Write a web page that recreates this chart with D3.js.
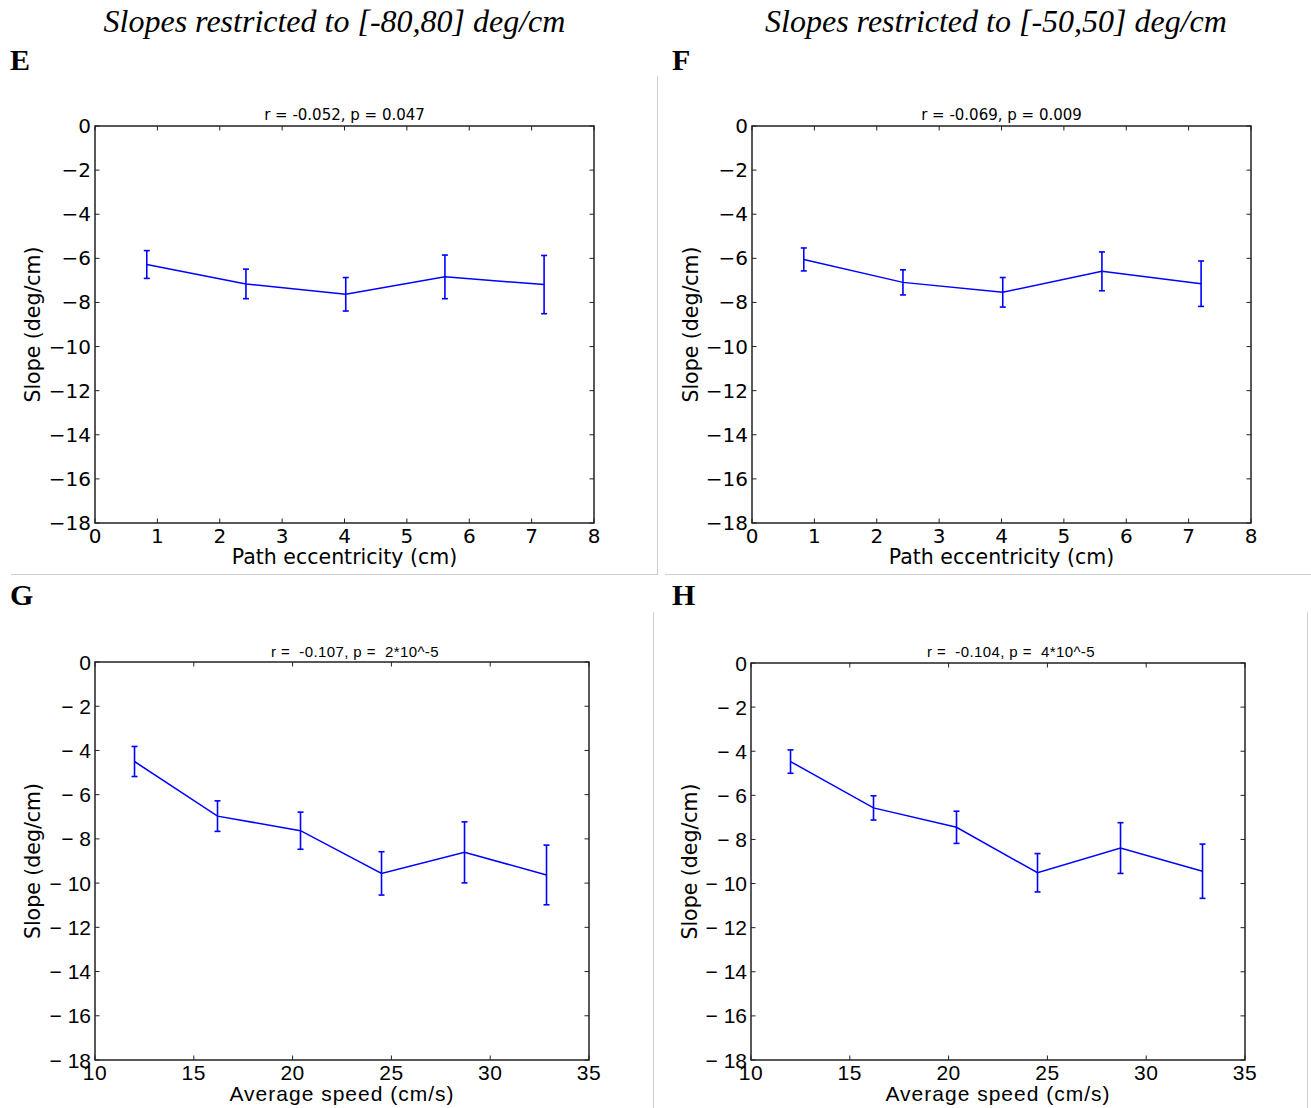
<!DOCTYPE html>
<html>
<head>
<meta charset="utf-8">
<script src="https://cdn.jsdelivr.net/npm/d3@7"></script>
<style>
  html, body { margin: 0; padding: 0; background: #fff; }
  svg { display: block; }
  text { white-space: pre; }
</style>
</head>
<body>
<svg id="fig" width="1311" height="1108"></svg>
<script>
// Mean slope per bin, with standard-error half-widths
const eccentricity = [0.83, 2.42, 4.02, 5.61, 7.2];
const slopeE = [-6.28, -7.16, -7.63, -6.84, -7.19];
const errE   = [0.63, 0.67, 0.76, 0.99, 1.32];
const slopeF = [-6.05, -7.09, -7.54, -6.59, -7.15];
const errF   = [0.52, 0.57, 0.67, 0.88, 1.03];

const speed  = [12.0, 16.2, 20.4, 24.5, 28.7, 32.85];
const slopeG = [-4.5, -6.97, -7.63, -9.56, -8.61, -9.63];
const errG   = [0.68, 0.69, 0.84, 0.98, 1.38, 1.35];
const slopeH = [-4.47, -6.57, -7.45, -9.51, -8.39, -9.44];
const errH   = [0.53, 0.55, 0.73, 0.87, 1.15, 1.23];

const yTicks = [0, -2, -4, -6, -8, -10, -12, -14, -16, -18];
const eccTicks = [0, 1, 2, 3, 4, 5, 6, 7, 8];
const speedTicks = [10, 15, 20, 25, 30, 35];

const columnTitles = ["Slopes restricted to [-80,80] deg/cm", "Slopes restricted to [-50,50] deg/cm"];
const panelLetters = ["E", "F", "G", "H"];
const panelStats = ["r = -0.052, p = 0.047", "r = -0.069, p = 0.009",
                    "r =  -0.107, p =  2*10^-5", "r =  -0.104, p =  4*10^-5"];
const xLabels = ["Path eccentricity (cm)", "Average speed (cm/s)"];
const yLabel = "Slope (deg/cm)";

const svg = d3.select("#fig");
const BLUE = "#0000ff";
const AXIS = "#222";

// column headings
svg.selectAll("text.coltitle").data(columnTitles).join("text")
  .attr("class", "coltitle")
  .attr("x", (d, i) => i === 0 ? 334.5 : 996)
  .attr("y", 32)
  .attr("text-anchor", "middle")
  .attr("font-family", "Liberation Serif")
  .attr("font-style", "italic")
  .attr("font-size", 32)
  .attr("fill", "#000")
  .text(d => d);

// thin frame lines separating the panels
const sep = svg.append("g").attr("stroke", "#cfcfcf").attr("stroke-width", 1).attr("fill", "none");
sep.append("line").attr("x1", 657.5).attr("x2", 657.5).attr("y1", 76).attr("y2", 574);
sep.append("line").attr("x1", 11).attr("x2", 658).attr("y1", 574.5).attr("y2", 574.5);
sep.append("line").attr("x1", 665).attr("x2", 1311).attr("y1", 574.5).attr("y2", 574.5);
sep.append("line").attr("x1", 653.5).attr("x2", 653.5).attr("y1", 612).attr("y2", 1108);
sep.append("line").attr("x1", 1307.5).attr("x2", 1307.5).attr("y1", 612).attr("y2", 1108);

const panels = [
  { letter: 0, lx: 10, ly: 70, box: [95, 594, 126, 523], xs: eccentricity, ys: slopeE, es: errE,
    xDom: [0, 8], xt: eccTicks, xl: 0, style: "dv", ylx: 33 },
  { letter: 1, lx: 672, ly: 70, box: [752, 1251, 126, 523], xs: eccentricity, ys: slopeF, es: errF,
    xDom: [0, 8], xt: eccTicks, xl: 0, style: "dv", ylx: 691 },
  { letter: 2, lx: 10, ly: 605, box: [95, 589, 662, 1060], xs: speed, ys: slopeG, es: errG,
    xDom: [10, 35], xt: speedTicks, xl: 1, style: "lib", ylx: 33 },
  { letter: 3, lx: 672, ly: 605, box: [751, 1245, 663, 1060], xs: speed, ys: slopeH, es: errH,
    xDom: [10, 35], xt: speedTicks, xl: 1, style: "lib", ylx: 690 }
];

panels.forEach((p, pi) => {
  const [L, R, T, B] = p.box;
  const x = d3.scaleLinear().domain(p.xDom).range([L, R]);
  const y = d3.scaleLinear().domain([0, -18]).range([T, B]);
  const g = svg.append("g");
  const lib = p.style === "lib";
  const tickFont = lib ? "Liberation Sans" : "DejaVu Sans";
  const tickSize = lib ? 21 : 20;
  const fmtY = v => v === 0 ? "0" : (lib ? "\u2212 " + Math.abs(v) : "\u2212" + Math.abs(v));

  // panel letter
  svg.append("text").attr("x", p.lx).attr("y", p.ly)
    .attr("font-family", "Liberation Serif").attr("font-weight", "bold")
    .attr("font-size", 30).attr("fill", "#000").text(panelLetters[p.letter]);

  // statistics line above the axes
  g.append("text")
    .attr("x", (L + R) / 2 + (lib ? 13 : 0))
    .attr("y", lib ? 657 : 120)
    .attr("text-anchor", "middle")
    .attr("font-family", lib ? "Liberation Sans" : "DejaVu Sans")
    .attr("font-size", 15)
    .attr("letter-spacing", lib ? 0.4 : 0)
    .attr("fill", "#000")
    .text(panelStats[pi]);

  // inward ticks on all four sides
  const tk = g.append("g").attr("stroke", AXIS).attr("stroke-width", 1);
  p.xt.forEach(v => {
    tk.append("line").attr("x1", x(v)).attr("x2", x(v)).attr("y1", B).attr("y2", B - 4.5);
    tk.append("line").attr("x1", x(v)).attr("x2", x(v)).attr("y1", T).attr("y2", T + 4.5);
  });
  yTicks.forEach(v => {
    tk.append("line").attr("x1", L).attr("x2", L + 4.5).attr("y1", y(v)).attr("y2", y(v));
    tk.append("line").attr("x1", R).attr("x2", R - 4.5).attr("y1", y(v)).attr("y2", y(v));
  });

  // frame
  g.append("rect").attr("x", L).attr("y", T).attr("width", R - L).attr("height", B - T)
    .attr("fill", "none").attr("stroke", AXIS).attr("stroke-width", 1.5);

  // tick labels
  g.selectAll("text.xt").data(p.xt).join("text").attr("class", "xt")
    .attr("x", d => x(d)).attr("y", B + (lib ? 20 : 20))
    .attr("text-anchor", "middle")
    .attr("font-family", tickFont).attr("font-size", tickSize)
    .attr("letter-spacing", lib ? 0.5 : 0)
    .attr("fill", "#000").text(d => d);
  g.selectAll("text.yt").data(yTicks).join("text").attr("class", "yt")
    .attr("x", L - 4).attr("y", d => y(d))
    .attr("text-anchor", "end").attr("dominant-baseline", "central")
    .attr("font-family", tickFont).attr("font-size", tickSize)
    .attr("fill", "#000").text(fmtY);

  // axis labels
  g.append("text").attr("x", (L + R) / 2).attr("y", lib ? 1101 : 564)
    .attr("text-anchor", "middle")
    .attr("font-family", lib ? "Liberation Sans" : "DejaVu Sans")
    .attr("font-size", lib ? 21 : 20.5)
    .attr("letter-spacing", lib ? 1 : 0)
    .attr("fill", "#000").text(xLabels[p.xl]);
  g.append("text")
    .attr("transform", `translate(${p.ylx},${(T + B) / 2}) rotate(-90)`)
    .attr("text-anchor", "middle").attr("dominant-baseline", "central")
    .attr("font-family", "DejaVu Sans").attr("font-size", 20.5)
    .attr("fill", "#000").text(yLabel);

  // mean line and error bars
  const pts = p.xs.map((xv, i) => ({ x: xv, y: p.ys[i], e: p.es[i] }));
  g.append("path").datum(pts)
    .attr("d", d3.line().x(d => x(d.x)).y(d => y(d.y)))
    .attr("fill", "none").attr("stroke", BLUE).attr("stroke-width", 1.5);
  const eb = g.append("g").attr("stroke", BLUE).attr("stroke-width", 1.6);
  pts.forEach(d => {
    eb.append("line").attr("x1", x(d.x)).attr("x2", x(d.x))
      .attr("y1", y(d.y + d.e)).attr("y2", y(d.y - d.e));
    [d.y + d.e, d.y - d.e].forEach(v => {
      eb.append("line").attr("x1", x(d.x) - 3).attr("x2", x(d.x) + 3)
        .attr("y1", y(v)).attr("y2", y(v));
    });
  });
});
</script>
</body>
</html>
